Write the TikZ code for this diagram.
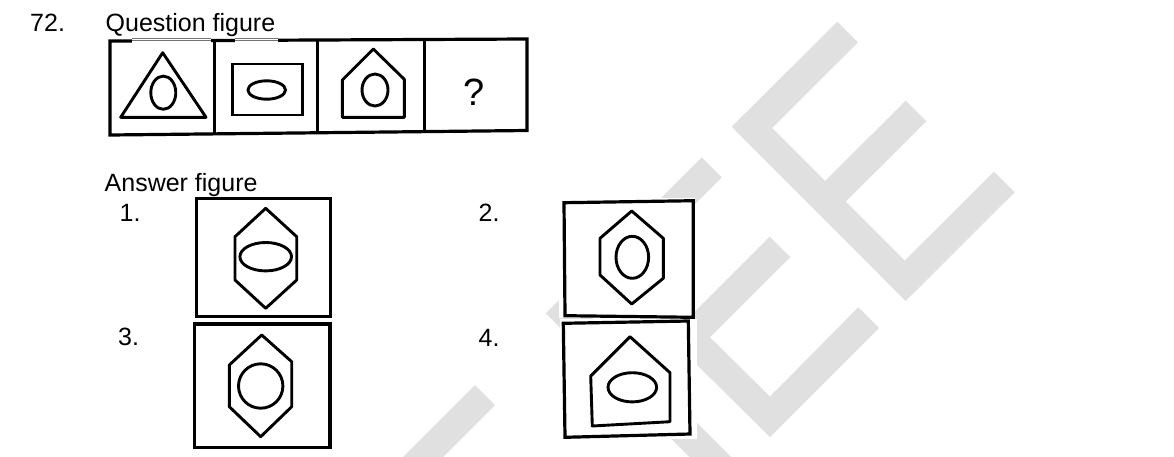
\documentclass[tikz,border=0pt]{standalone}
\usepackage{fontspec}
\setmainfont{Liberation Sans}
\usetikzlibrary{calc}
\definecolor{wm}{RGB}{224,224,224}
\definecolor{ulgray}{RGB}{115,115,115}
\begin{document}
\begin{tikzpicture}[x=1pt,y=-1pt,
  frame/.style={line width=3.2pt,line join=miter},
  shp/.style={line width=2.9pt,line join=round},
  lbl/.style={anchor=base west,inner sep=0pt,font=\fontsize{25}{30}\selectfont},
  wmark/.style={fill=wm,draw=none},
  bgwhite/.style={fill=white,draw=none}]
\useasboundingbox (0,0) rectangle (1174,456);
\clip (0,0) rectangle (1174,456);
% ---------- watermark ----------
\fill[wmark] (837.3,21.7) -- (858,42.3) -- (772,128) -- (825,181) -- (905.7,100.7) -- (926.3,121.3) -- (845.7,201.7) -- (904.7,260.7) -- (994,171.7) -- (1014.7,192.3) -- (905.7,301) -- (731.7,126.7) -- cycle;
\fill[wmark] (769.7,236.7) -- (790.3,257) -- (710,337.3) -- (770,396.5) -- (858.3,307.3) -- (879,328) -- (770,437) -- (669,337.3) -- cycle;
\fill[wmark] (701.7,157.3) -- (721.7,177.3) -- (586.7,312.3) -- (744,470) -- (702.4,470) -- (545.7,313.3) -- cycle;
\fill[wmark] (475,385) -- (495,405) -- (434,466) -- (394,466) -- cycle;
% white backgrounds of pasted answer images
\fill[bgwhite] (559,198) rectangle (695,318);
\fill[bgwhite] (560,319) rectangle (697,439);
% ---------- texts ----------
\node[lbl] (num) at (30,31) {72.};
\node[lbl] (qtitle) at (105.5,31) {Question figure};
\node[lbl] (atitle) at (104.5,191.7) {Answer figure};
\node[lbl] (a1) at (119.5,221.7) {1.};
\node[lbl] (a2) at (478.5,221.7) {2.};
\node[lbl] (a3) at (118,345.5) {3.};
\node[lbl] (a4) at (478.5,346) {4.};
% ---------- question strip ----------
\coordinate (qTL) at (110,41);
\coordinate (qTR) at (527,39);
\coordinate (qBR) at (527,130.5);
\coordinate (qBL) at (110,135);
\draw[frame] (qTL) -- (qTR) -- (qBR) -- (qBL) -- cycle;
\foreach \t in {0.25,0.497,0.754}
  \draw[frame] ($(qTL)!\t!(qTR)$) -- ($(qBL)!\t!(qBR)$);
% text background hiding the box top under the double underlines
\fill[bgwhite] (131.7,36.5) rectangle (210.7,43.2);
\fill[bgwhite] (235,36.5) rectangle (277.7,43.2);
\draw[ulgray,line width=1.1pt] (131.7,38.2) -- (210.7,38.2) (131.7,40.9) -- (210.7,40.9)
  (235,38.2) -- (277.7,38.2) (235,40.9) -- (277.7,40.9);
% figure 1: triangle with tall ellipse
\draw[shp] (162.7,52.7) -- (206,117.3) -- (120.7,117.3) -- cycle;
\draw[shp] (163.3,92.7) ellipse [x radius=12.5, y radius=16.6];
% figure 2: rectangle with wide ellipse
\draw[shp,line join=miter] (232.3,64) rectangle (302.7,115);
\draw[shp] (266.7,90) ellipse [x radius=18.8, y radius=9.2];
% figure 3: pentagon with tall ellipse
\draw[shp] (373.3,49) -- (404.3,79.3) -- (404.3,117.3) -- (342.3,117.3) -- (342.3,80) -- cycle;
\draw[shp] (375,90) ellipse [x radius=13, y radius=16];
% figure 4: question mark
\node[anchor=base,inner sep=0pt,font=\fontsize{38}{42}\selectfont] (qm) at (474,105) {?};
% ---------- answer figures ----------
% 1
\draw[frame] (196.7,198.3) -- (330.7,198.3) -- (330.7,316.7) -- (196.7,316.7) -- cycle;
\draw[shp] (265.7,208.3) -- (296.7,236.7) -- (296.7,280) -- (265.7,308.3) -- (235,280) -- (235,236.7) -- cycle;
\draw[shp] (265.7,256.7) ellipse [x radius=25.8, y radius=14.2];
% 2
\draw[frame] (564,202.7) -- (693.3,200.7) -- (693.3,317.3) -- (565,315.7) -- cycle;
\draw[shp] (631.7,211) -- (663.3,238.3) -- (663.3,278.3) -- (631.7,304) -- (600,275) -- (600,238.3) -- cycle;
\draw[shp] (632.3,257.3) ellipse [x radius=16.3, y radius=21];
% 3
\draw[frame] (194.3,324) -- (330,324) -- (330,447.3) -- (194.3,447.3) -- cycle;
\draw[shp] (261.7,335) -- (291.7,361.7) -- (291.7,406.7) -- (260.7,436.7) -- (229.3,406.7) -- (229.3,365) -- cycle;
\draw[shp] (260.7,386) circle [radius=22.2];
% 4
\draw[frame] (563.3,323.3) -- (688.3,321) -- (690,434) -- (565,437.3) -- cycle;
\draw[shp] (630,336.7) -- (670,372.7) -- (670,421.7) -- (592.3,426) -- (590.7,376) -- cycle;
\draw[shp] (632.3,387.3) ellipse [x radius=24.3, y radius=14.6];
\end{tikzpicture}
\end{document}
